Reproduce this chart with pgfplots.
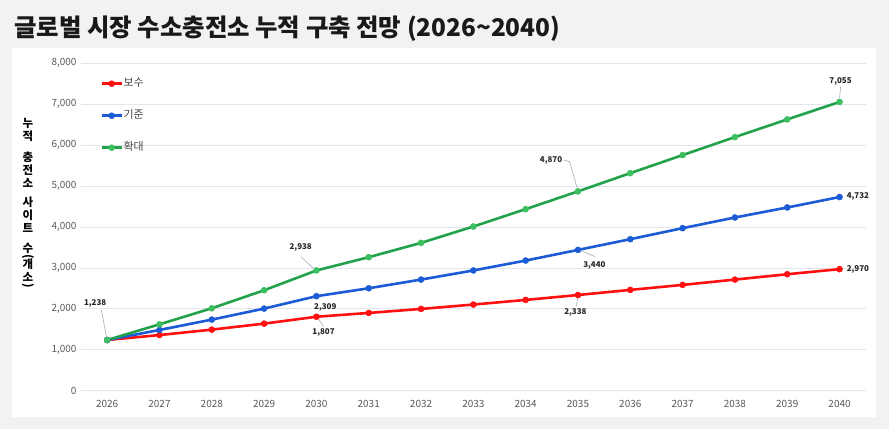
\documentclass[border=0pt]{standalone}
\usepackage{fontspec}
\setmainfont{Noto Sans CJK KR}
\usepackage{graphicx}
\usepackage{pgfplots}
\pgfplotsset{compat=1.18}
\definecolor{cRed}{HTML}{FF1010}
\definecolor{cBlue}{HTML}{1B5BD5}
\definecolor{cGreen}{HTML}{21A24B}
\definecolor{cGreenM}{HTML}{3CBF5E}
\definecolor{cGrid}{HTML}{E2E5EE}
\definecolor{cTick}{HTML}{595959}
\definecolor{cLead}{HTML}{A6ACB8}
\definecolor{cBg}{HTML}{F2F2F2}
\begin{document}
\begin{tikzpicture}
\fill[cBg] (0bp,0bp) rectangle (889bp,429bp);
\useasboundingbox (0bp,0bp) rectangle (889bp,429bp);
\fill[white] (12bp,12bp) rectangle (876bp,381bp);
\node[anchor=base west,inner sep=0pt,font=\fontsize{24.5}{28}\selectfont\bfseries,text=black!90] at (14bp,392bp) {글로벌 시장 수소충전소 누적 구축 전망 (2026\textasciitilde 2040)};
\node[font=\fontsize{11.5}{13}\selectfont\bfseries,align=center,inner sep=0pt,anchor=north] at (28bp,311bp) {누\\적\\[8bp]충\\전\\소\\[6bp]사\\이\\트\\[7bp]수\\[-5bp]\rotatebox[origin=c]{-90}{(}\\[-4bp]개\\소\\[-5bp]\rotatebox[origin=c]{-90}{)}};
\begin{axis}[
  at={(81bp,38.3bp)}, anchor=south west,
  scale only axis, width=784.7bp, height=327.4bp,
  xmin=-0.5, xmax=14.5, ymin=0, ymax=8000,
  axis line style={draw=none},
  ymajorgrids, grid style={cGrid, line width=0.8bp},
  ytick={0,1000,...,8000},
  xtick={0,...,14},
  xticklabels={2026,2027,2028,2029,2030,2031,2032,2033,2034,2035,2036,2037,2038,2039,2040},
  /pgf/number format/assume math mode=true,
  /pgf/number format/1000 sep={,},
  tick label style={font=\fontsize{10}{12}\selectfont, text=cTick},
  yticklabel style={xshift=-1bp},
  xticklabel style={yshift=-6bp},
  major tick length=0pt,
  clip=false,
  legend style={at={(rel axis cs:0.0245,0.955)}, anchor=north west, draw=none, fill=none,
    font=\fontsize{11}{12}\selectfont, text=black!72, row sep=21bp, inner sep=0pt,
    nodes={inner sep=0.5pt, text height=8bp, text depth=2bp}},
  legend cell align=left,
  legend image code/.code={\draw[mark repeat=2,mark phase=2,#1] plot coordinates {(0bp,0bp) (10bp,0bp) (20bp,0bp)};},
  every axis plot/.append style={line width=2.6bp, mark=*, mark size=3bp},
]
\addplot[cRed, mark options={fill=cRed, draw=cRed, line width=0.5bp}] coordinates {
(0,1238) (1,1360) (2,1492) (3,1639) (4,1807) (5,1900) (6,1998) (7,2105) (8,2218) (9,2338) (10,2463) (11,2585) (12,2715) (13,2846) (14,2970)};
\addlegendentry{보수}
\addplot[cBlue, mark options={fill=cBlue, draw=cBlue, line width=0.5bp}] coordinates {
(0,1238) (1,1484) (2,1737) (3,2006) (4,2309) (5,2503) (6,2715) (7,2938) (8,3180) (9,3440) (10,3702) (11,3971) (12,4232) (13,4477) (14,4732)};
\addlegendentry{기준}
\addplot[cGreen, mark options={fill=cGreenM, draw=cGreenM, line width=0.5bp}] coordinates {
(0,1238) (1,1622) (2,2014) (3,2454) (4,2938) (5,3262) (6,3612) (7,4012) (8,4436) (9,4870) (10,5316) (11,5757) (12,6197) (13,6629) (14,7055)};
\addlegendentry{확대}
% leader lines
\draw[cLead, line width=0.6bp] (axis cs:-0.11,1970) -- (axis cs:0,1238);
\draw[cLead, line width=0.6bp] (axis cs:3.70,3274) -- (axis cs:3.945,2991);
\draw[cLead, line width=0.6bp] (axis cs:4.011,1808) -- (axis cs:4.137,1564);
\draw[cLead, line width=0.6bp] (axis cs:8.726,5637) -- (axis cs:8.841,5596) -- (axis cs:8.994,4904);
\draw[cLead, line width=0.6bp] (axis cs:9.001,3455) -- (axis cs:9.331,3274);
\draw[cLead, line width=0.6bp] (axis cs:9.001,2355) -- (axis cs:8.97,2070);
\draw[cLead, line width=0.6bp] (axis cs:14.02,7428) -- (axis cs:14.0,7145);
% data labels
\begin{scope}[every node/.style={font=\fontsize{8}{9}\selectfont\bfseries, text=black!85, inner sep=0pt}]
\node at (axis cs:-0.23,2141) {1,238};
\node at (axis cs:3.70,3504) {2,938};
\node at (axis cs:4.169,2028) {2,309};
\node at (axis cs:4.137,1427) {1,807};
\node at (axis cs:8.485,5637) {4,870};
\node at (axis cs:9.313,3055) {3,440};
\node at (axis cs:8.950,1915) {2,338};
\node at (axis cs:14.02,7568) {7,055};
\node at (axis cs:14.35,4740) {4,732};
\node at (axis cs:14.35,2974) {2,970};
\end{scope}
\end{axis}
\end{tikzpicture}
\end{document}
